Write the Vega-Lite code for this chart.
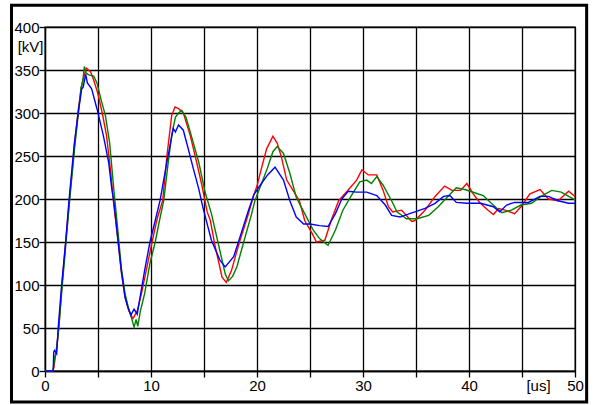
{
  "$schema": "https://vega.github.io/schema/vega-lite/v6.json",
  "width": 530,
  "height": 344,
  "autosize": {"type": "none"},
  "padding": {"left": 45, "top": 27, "right": 20, "bottom": 34},
  "background": "white",
  "config": {
    "view": {"stroke": "black", "strokeWidth": 1.3},
    "axis": {
      "labelFont": "Liberation Sans Narrow, Liberation Sans",
      "titleFont": "Liberation Sans Narrow, Liberation Sans",
      "labelFontSize": 15,
      "titleFontSize": 15,
      "labelColor": "black",
      "titleColor": "black",
      "titleFontWeight": "normal",
      "domainColor": "black",
      "domainWidth": 1.3,
      "tickColor": "black",
      "tickWidth": 1.3,
      "tickSize": 6,
      "gridColor": "black",
      "gridWidth": 1.3,
      "gridOpacity": 1
    }
  },
  "datasets": {
    "red": [
      {"t":0,"v":0},{"t":0.75,"v":0},{"t":0.85,"v":5},{"t":1.1,"v":28},{"t":1.3,"v":50},{"t":1.6,"v":100},{"t":1.95,"v":150},{"t":2.3,"v":198},{"t":2.8,"v":265},{"t":3.15,"v":305},{"t":3.5,"v":335},{"t":3.9,"v":352},{"t":4.3,"v":348},{"t":4.6,"v":338},{"t":5.0,"v":322},{"t":5.4,"v":300},{"t":5.8,"v":274},{"t":6.2,"v":231},{"t":6.45,"v":198},{"t":6.9,"v":150},{"t":7.2,"v":115},{"t":7.55,"v":86},{"t":7.9,"v":70},{"t":8.3,"v":61},{"t":8.7,"v":70},{"t":9.1,"v":90},{"t":9.6,"v":120},{"t":10.1,"v":150},{"t":10.6,"v":178},{"t":11.1,"v":198},{"t":11.5,"v":250},{"t":11.95,"v":297},{"t":12.26,"v":307},{"t":12.6,"v":305},{"t":13.05,"v":300},{"t":13.7,"v":274},{"t":14.3,"v":243},{"t":14.8,"v":216},{"t":15.3,"v":185},{"t":15.6,"v":175},{"t":16.0,"v":148},{"t":16.7,"v":109},{"t":17.1,"v":103},{"t":17.6,"v":117},{"t":18.0,"v":135},{"t":18.4,"v":152},{"t":19.2,"v":183},{"t":19.7,"v":205},{"t":20.0,"v":215},{"t":20.3,"v":230},{"t":20.9,"v":258},{"t":21.5,"v":273},{"t":21.9,"v":265},{"t":22.3,"v":249},{"t":22.8,"v":222},{"t":23.4,"v":210},{"t":24.0,"v":198},{"t":24.5,"v":175},{"t":25.2,"v":160},{"t":25.6,"v":150},{"t":26.4,"v":152},{"t":27.0,"v":175},{"t":27.7,"v":198},{"t":28.5,"v":209},{"t":29.4,"v":222},{"t":29.9,"v":234},{"t":30.5,"v":228},{"t":31.3,"v":228},{"t":31.9,"v":210},{"t":32.4,"v":191},{"t":32.8,"v":185},{"t":33.65,"v":187},{"t":34.6,"v":174},{"t":34.9,"v":175},{"t":35.85,"v":187},{"t":36.8,"v":203},{"t":37.7,"v":215},{"t":38.4,"v":210},{"t":39.2,"v":210},{"t":39.8,"v":218},{"t":40.4,"v":206},{"t":41.0,"v":196},{"t":41.8,"v":187},{"t":42.3,"v":182},{"t":42.8,"v":189},{"t":43.4,"v":187},{"t":44.3,"v":183},{"t":44.9,"v":191},{"t":45.75,"v":206},{"t":46.7,"v":211},{"t":47.5,"v":200},{"t":48.4,"v":198},{"t":49.4,"v":209},{"t":50,"v":203}
    ],
    "green": [
      {"t":0,"v":0},{"t":0.75,"v":0},{"t":0.9,"v":15},{"t":1.1,"v":25},{"t":1.3,"v":50},{"t":1.6,"v":95},{"t":1.95,"v":145},{"t":2.3,"v":195},{"t":2.8,"v":260},{"t":3.15,"v":300},{"t":3.4,"v":330},{"t":3.55,"v":335},{"t":3.71,"v":354},{"t":3.9,"v":346},{"t":4.2,"v":344},{"t":4.6,"v":343},{"t":4.9,"v":335},{"t":5.3,"v":315},{"t":5.7,"v":297},{"t":6.1,"v":265},{"t":6.5,"v":210},{"t":6.9,"v":160},{"t":7.2,"v":120},{"t":7.55,"v":90},{"t":7.9,"v":72},{"t":8.2,"v":60},{"t":8.4,"v":51},{"t":8.6,"v":60},{"t":8.75,"v":52},{"t":9.0,"v":70},{"t":9.4,"v":90},{"t":9.9,"v":125},{"t":10.4,"v":150},{"t":10.8,"v":175},{"t":11.2,"v":198},{"t":11.6,"v":240},{"t":11.95,"v":274},{"t":12.3,"v":295},{"t":12.6,"v":300},{"t":12.9,"v":303},{"t":13.3,"v":295},{"t":13.7,"v":278},{"t":14.5,"v":243},{"t":15.1,"v":208},{"t":15.7,"v":183},{"t":16.35,"v":148},{"t":17.0,"v":113},{"t":17.3,"v":105},{"t":17.7,"v":110},{"t":18.1,"v":121},{"t":18.7,"v":148},{"t":19.5,"v":183},{"t":19.8,"v":198},{"t":20.3,"v":214},{"t":20.9,"v":233},{"t":21.5,"v":255},{"t":21.9,"v":261},{"t":22.5,"v":253},{"t":23.1,"v":230},{"t":23.7,"v":202},{"t":24.5,"v":183},{"t":25.3,"v":164},{"t":25.9,"v":154},{"t":26.7,"v":146},{"t":27.4,"v":164},{"t":28.1,"v":187},{"t":28.9,"v":204},{"t":29.7,"v":220},{"t":30.35,"v":222},{"t":30.8,"v":218},{"t":31.3,"v":226},{"t":31.9,"v":216},{"t":32.7,"v":198},{"t":33.2,"v":185},{"t":34.1,"v":177},{"t":35.1,"v":177},{"t":36.2,"v":181},{"t":37.1,"v":191},{"t":38.0,"v":203},{"t":38.8,"v":213},{"t":39.6,"v":211},{"t":40.6,"v":207},{"t":41.35,"v":204},{"t":42.1,"v":195},{"t":43.1,"v":184},{"t":44.0,"v":187},{"t":44.9,"v":193},{"t":45.9,"v":195},{"t":46.8,"v":203},{"t":47.8,"v":210},{"t":48.7,"v":208},{"t":50,"v":199}
    ],
    "blue": [
      {"t":0,"v":0},{"t":0.78,"v":0},{"t":0.82,"v":22},{"t":0.9,"v":24},{"t":1.1,"v":20},{"t":1.25,"v":51},{"t":1.57,"v":100},{"t":1.95,"v":150},{"t":2.26,"v":198},{"t":2.77,"v":265},{"t":3.14,"v":301},{"t":3.46,"v":328},{"t":3.6,"v":330},{"t":3.84,"v":345},{"t":4.0,"v":335},{"t":4.4,"v":328},{"t":4.9,"v":305},{"t":5.5,"v":274},{"t":6.0,"v":243},{"t":6.3,"v":212},{"t":6.5,"v":196},{"t":6.9,"v":150},{"t":7.2,"v":117},{"t":7.55,"v":86},{"t":7.8,"v":75},{"t":8.1,"v":65},{"t":8.4,"v":72},{"t":8.7,"v":66},{"t":9.0,"v":88},{"t":9.4,"v":117},{"t":9.9,"v":150},{"t":10.4,"v":175},{"t":10.85,"v":198},{"t":11.5,"v":243},{"t":12.1,"v":282},{"t":12.3,"v":278},{"t":12.6,"v":286},{"t":13.05,"v":280},{"t":13.5,"v":259},{"t":14.0,"v":235},{"t":14.5,"v":212},{"t":14.9,"v":190},{"t":15.7,"v":152},{"t":16.5,"v":129},{"t":17.0,"v":121},{"t":17.8,"v":133},{"t":18.4,"v":156},{"t":19.2,"v":187},{"t":19.7,"v":205},{"t":20.3,"v":216},{"t":21.0,"v":228},{"t":21.7,"v":237},{"t":22.5,"v":222},{"t":23.1,"v":198},{"t":23.7,"v":179},{"t":24.4,"v":171},{"t":25.0,"v":171},{"t":25.9,"v":169},{"t":26.7,"v":168},{"t":27.4,"v":183},{"t":28.0,"v":200},{"t":28.6,"v":209},{"t":29.4,"v":208},{"t":30.35,"v":208},{"t":31.3,"v":204},{"t":32.1,"v":193},{"t":32.7,"v":181},{"t":33.5,"v":179},{"t":34.4,"v":183},{"t":34.9,"v":185},{"t":35.85,"v":189},{"t":36.8,"v":195},{"t":37.6,"v":203},{"t":38.2,"v":204},{"t":38.8,"v":196},{"t":39.8,"v":195},{"t":41.1,"v":195},{"t":42.3,"v":191},{"t":42.9,"v":185},{"t":43.55,"v":193},{"t":44.3,"v":196},{"t":45.6,"v":196},{"t":46.7,"v":203},{"t":47.5,"v":203},{"t":48.4,"v":198},{"t":49.4,"v":195},{"t":50,"v":195}
    ],
    "frame": [{"x1": -3.16, "x2": 51.1, "y1": 425.2, "y2": -36}]
  },
  "layer": [
    {
      "data": {"name": "red"},
      "mark": {"type": "line", "color": "#ff0000", "strokeWidth": 1.4},
      "encoding": {
        "x": {
          "field": "t", "type": "quantitative",
          "scale": {"domain": [0, 50], "nice": false, "zero": false},
          "axis": {
            "values": [0,5,10,15,20,25,30,35,40,45,50],
            "labelExpr": "datum.value % 10 == 0 ? datum.label : ''",
            "labelPadding": 1,
            "labelFlush": false,
            "title": "[us]",
            "titleAngle": 0,
            "titleX": 493,
            "titleY": 19,
            "titleAlign": "center",
            "titleBaseline": "alphabetic"
          }
        },
        "y": {
          "field": "v", "type": "quantitative",
          "scale": {"domain": [0, 400], "nice": false},
          "axis": {
            "values": [0,50,100,150,200,250,300,350,400],
            "labelPadding": 0,
            "labelFlush": false,
            "title": "[kV]",
            "titleAngle": 0,
            "titleX": -2,
            "titleY": 24,
            "titleAlign": "right",
            "titleBaseline": "alphabetic"
          }
        }
      }
    },
    {
      "data": {"name": "green"},
      "mark": {"type": "line", "color": "#008000", "strokeWidth": 1.4},
      "encoding": {
        "x": {"field": "t", "type": "quantitative"},
        "y": {"field": "v", "type": "quantitative"}
      }
    },
    {
      "data": {"name": "blue"},
      "mark": {"type": "line", "color": "#0000ff", "strokeWidth": 1.4},
      "encoding": {
        "x": {"field": "t", "type": "quantitative"},
        "y": {"field": "v", "type": "quantitative"}
      }
    },
    {
      "data": {"name": "frame"},
      "mark": {"type": "rect", "fill": null, "fillOpacity": 0, "stroke": "black", "strokeWidth": 3, "clip": false},
      "encoding": {
        "x": {"field": "x1", "type": "quantitative"},
        "x2": {"field": "x2"},
        "y": {"field": "y1", "type": "quantitative"},
        "y2": {"field": "y2"}
      }
    }
  ]
}
